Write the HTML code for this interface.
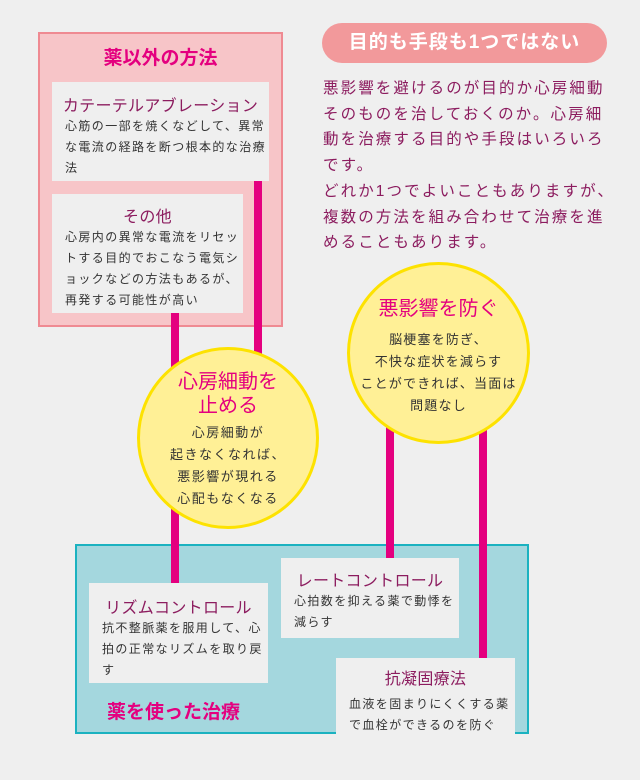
<!DOCTYPE html>
<html><head><meta charset="utf-8"><style>
*{margin:0;padding:0;box-sizing:border-box}
body{width:640px;height:780px;background:#efefef;position:relative;overflow:hidden;font-family:"Liberation Sans","Noto Sans CJK JP",sans-serif}
.a{position:absolute}
.bar{position:absolute;background:#e4007f;width:8px}
.card{position:absolute;background:#efefef}
.t{color:#8c1c5f;font-size:16px;text-align:center;letter-spacing:0.3px;white-space:nowrap}
.b{color:#333;font-size:12px;letter-spacing:1.4px;line-height:21px;padding-left:13px;white-space:nowrap}
.circ{position:absolute;border-radius:50%;background:#fff096;border:3px solid #fde200;text-align:center;white-space:nowrap}
</style></head><body>
<div class="a" style="left:38px;top:32px;width:245px;height:295px;background:#f7c5c8;border:2px solid #ef8a92"></div>
<div class="a" style="left:38px;top:43px;width:245px;text-align:center;color:#e4007f;font-weight:bold;font-size:19px">薬以外の方法</div>
<div class="card" style="left:52px;top:82px;width:217px;height:99px">
<div class="t" style="margin-top:10px">カテーテルアブレーション</div>
<div class="b" style="margin-top:0px">心筋の一部を焼くなどして、異常<br>な電流の経路を断つ根本的な治療<br>法</div></div>
<div class="card" style="left:52px;top:194px;width:191px;height:119px">
<div class="t" style="margin-top:9px">その他</div>
<div class="b" style="margin-top:0px">心房内の異常な電流をリセッ<br>トする目的でおこなう電気シ<br>ョックなどの方法もあるが、<br>再発する可能性が高い</div></div>

<div class="a" style="left:75px;top:544px;width:454px;height:190px;background:#a4d7de;border:2px solid #1bb2c0"></div>
<div class="bar" style="left:171px;top:313px;height:272px"></div>
<div class="bar" style="left:254px;top:181px;height:190px"></div>
<div class="bar" style="left:386px;top:400px;height:160px"></div>
<div class="bar" style="left:479px;top:400px;height:260px"></div>
<div class="a" style="left:107px;top:697px;color:#e4007f;font-weight:bold;font-size:19px">薬を使った治療</div>
<div class="card" style="left:89px;top:583px;width:179px;height:100px">
<div class="t" style="margin-top:11px">リズムコントロール</div>
<div class="b" style="margin-top:0">抗不整脈薬を服用して、心<br>拍の正常なリズムを取り戻<br>す</div></div>
<div class="card" style="left:281px;top:558px;width:178px;height:80px">
<div class="t" style="margin-top:9px">レートコントロール</div>
<div class="b" style="margin-top:0">心拍数を抑える薬で動悸を<br>減らす</div></div>
<div class="card" style="left:336px;top:658px;width:179px;height:80px">
<div class="t" style="margin-top:7px">抗凝固療法</div>
<div class="b" style="margin-top:5px">血液を固まりにくくする薬<br>で血栓ができるのを防ぐ</div></div>

<div class="circ" style="left:137px;top:347px;width:182px;height:182px">
<div style="color:#e4007f;font-size:20px;line-height:24px;margin-top:20px">心房細動を<br>止める</div>
<div style="color:#333;font-size:13px;line-height:22px;margin-top:4px;letter-spacing:1.5px">心房細動が<br>起きなくなれば、<br>悪影響が現れる<br>心配もなくなる</div></div>
<div class="circ" style="left:347px;top:262px;width:183px;height:182px">
<div style="color:#e4007f;font-size:20px;line-height:24px;margin-top:32px">悪影響を防ぐ</div>
<div style="color:#333;font-size:13px;line-height:22px;margin-top:8px;letter-spacing:1.2px">脳梗塞を防ぎ、<br>不快な症状を減らす<br>ことができれば、当面は<br>問題なし</div></div>

<div class="a" style="left:322px;top:23px;width:285px;height:40px;border-radius:20px;background:#f2999b;color:#fff;font-weight:bold;font-size:19px;text-align:center;line-height:40px;letter-spacing:1px">目的も手段も1つではない</div>
<div class="a" style="left:323px;top:76px;width:320px;white-space:nowrap;color:#8c1c5f;font-size:15.5px;line-height:25.7px;letter-spacing:2.1px">悪影響を避けるのが目的か心房細動<br>そのものを治しておくのか。心房細<br>動を治療する目的や手段はいろいろ<br>です。<br>どれか1つでよいこともありますが、<br>複数の方法を組み合わせて治療を進<br>めることもあります。</div>
</body></html>
